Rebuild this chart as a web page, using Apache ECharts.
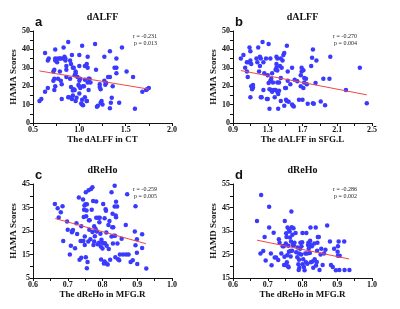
<!DOCTYPE html>
<html>
<head>
<meta charset="utf-8">
<script src="https://cdn.jsdelivr.net/npm/echarts@6/dist/echarts.min.js"></script>
<style>
  html, body { margin: 0; padding: 0; background: #fff; }
  #chart { width: 400px; height: 309px; }
</style>
</head>
<body>
<div id="chart"></div>
<script>
  // panel a: dALFF in CT vs HAMA
  var ptsA = [
    [0.57,12],[0.59,13],[0.63,38],[0.63,17],[0.66,19],[0.66,34],[0.67,35],[0.72,23],[0.72,28],[0.73,18],
    [0.73,29],[0.74,35],[0.74,34],[0.74,40],[0.73,24],[0.74,20],[0.76,33],[0.77,35],[0.77,24],[0.79,35],
    [0.79,28],[0.80,35],[0.80,23],[0.81,21],[0.81,13],[0.83,41],[0.83,35],[0.84,36],[0.85,35],[0.85,34],
    [0.86,25],[0.86,31],[0.86,29],[0.88,44],[0.88,14],[0.89,14],[0.90,24],[0.90,34],[0.91,32],[0.91,19.5],
    [0.92,37],[0.92,13],[0.93,17.7],[0.93,15],[0.93,30],[0.94,30],[0.94,18.4],[0.95,18],[0.95,26],[0.96,28],
    [0.96,27],[0.96,12],[0.97,13.7],[0.98,25],[0.99,20.6],[1.0,16],[1.0,23],[1.0,37],[1.0,31],[1.0,20],
    [1.01,24],[1.01,19],[1.02,10.6],[1.03,10],[1.03,42],[1.03,12.6],[1.04,20],[1.04,9.6],[1.05,20],[1.06,31],
    [1.06,23.5],[1.06,14],[1.08,12],[1.08,12],[1.08,32],[1.09,22],[1.09,30],[1.09,36],[1.10,24],[1.10,18],
    [1.11,24],[1.12,22],[1.17,43],[1.18,29],[1.19,8.8],[1.20,9.4],[1.22,21],[1.22,19.5],[1.23,11],[1.23,18.4],
    [1.24,12],[1.25,10],[1.27,23],[1.27,36],[1.29,21.7],[1.28,20.8],[1.31,25],[1.33,25],[1.33,39],[1.33,8],
    [1.34,11],[1.35,13.7],[1.36,20],[1.38,30],[1.40,35],[1.40,27],[1.40,30],[1.43,11],[1.46,41],[1.51,28],
    [1.58,25],[1.60,7.8],[1.68,17],[1.72,18],[1.73,18.4],[1.75,19]
  ];
  var fitA = [[0.57,28.3],[1.75,18.4]];

  // panel b: dALFF in SFG.L vs HAMA
  var ptsB = [
    [0.99,35],[1.02,37],[1.04,30],[1.06,28],[1.06,33],[1.07,25],[1.08,33],[1.09,41],[1.10,39],[1.10,34],
    [1.10,14],[1.11,32],[1.11,20],[1.12,19],[1.12,18.4],[1.13,20.6],[1.13,19.3],[1.17,35],[1.18,33],[1.19,41],
    [1.20,28],[1.21,36],[1.21,31],[1.22,35],[1.22,14],[1.23,14],[1.24,44],[1.25,33],[1.25,18],[1.26,27],
    [1.28,35],[1.29,13],[1.30,13],[1.30,26],[1.31,43],[1.31,21.7],[1.32,18.4],[1.32,7.8],[1.33,35],[1.33,23],
    [1.34,24],[1.34,18],[1.35,17],[1.35,27],[1.36,22],[1.37,18],[1.38,14],[1.39,18],[1.39,29],[1.40,36],
    [1.40,30],[1.40,32],[1.41,17],[1.41,22],[1.41,28.5],[1.41,35],[1.42,7.8],[1.42,15.7],[1.43,17.5],[1.43,22],
    [1.44,31],[1.45,35],[1.45,12],[1.45,24.5],[1.46,30],[1.47,34],[1.48,37],[1.49,38],[1.49,9.4],[1.50,19],
    [1.51,12.6],[1.51,19],[1.52,42],[1.52,12],[1.53,28],[1.53,23],[1.54,11.6],[1.56,21],[1.58,10],[1.58,30],
    [1.59,9.4],[1.60,9],[1.61,23.5],[1.64,22.7],[1.66,12.6],[1.68,20],[1.68,26],[1.69,28],[1.69,30],[1.70,12.6],
    [1.71,19],[1.71,28.7],[1.72,24.4],[1.72,22],[1.74,24],[1.75,21],[1.76,10.5],[1.80,31],[1.81,35.5],[1.82,40],
    [1.82,10.8],[1.83,10.5],[1.85,21.7],[1.86,34],[1.91,11.7],[1.94,24],[1.96,9.7],[2.01,24],[2.02,36],[2.20,18],
    [2.36,30],[2.44,10.8]
  ];
  var fitB = [[0.99,28.5],[2.44,15.3]];

  // panel c: dReHo in MFG.R vs HAMA
  var ptsC = [
    [0.663,36.5],[0.671,34.7],[0.674,30.7],[0.680,33],[0.685,35.5],[0.687,20.7],[0.698,29],[0.700,25.5],[0.706,15],[0.709,18.7],
    [0.712,24.5],[0.713,25],[0.715,25.4],[0.721,17.7],[0.725,28.3],[0.727,23.7],[0.732,39.3],[0.734,12.8],[0.737,20.7],[0.739,27],
    [0.739,13.6],[0.741,20.7],[0.744,38.4],[0.745,20.7],[0.746,31],[0.747,34],[0.748,35.8],[0.749,22.7],[0.749,19],[0.751,36.4],
    [0.752,41.5],[0.752,13.8],[0.753,31.3],[0.754,33.7],[0.755,36.4],[0.755,9.2],[0.757,11.8],[0.759,20.5],[0.760,42.3],[0.761,29.6],
    [0.762,25.5],[0.763,29.6],[0.765,21.5],[0.767,42.9],[0.769,34],[0.771,43.6],[0.771,24.6],[0.773,37.8],[0.774,19],[0.776,20.5],
    [0.776,27],[0.778,22.8],[0.780,25.8],[0.782,37.6],[0.782,30.6],[0.782,25],[0.784,24.8],[0.786,19.4],[0.788,30.6],[0.790,20],
    [0.791,28.7],[0.792,30.6],[0.794,23.8],[0.795,18.4],[0.796,12.9],[0.797,21.3],[0.800,17.6],[0.800,20],[0.802,36.5],[0.804,11.2],
    [0.804,19.8],[0.806,12],[0.806,30.4],[0.807,19.8],[0.809,34.3],[0.810,33.6],[0.811,24.4],[0.811,11.2],[0.812,18.7],[0.815,10.7],
    [0.817,27.6],[0.818,17.3],[0.820,29.3],[0.822,12.8],[0.826,41.5],[0.826,22.7],[0.828,26.6],[0.829,32.3],[0.830,19.7],[0.831,26.6],
    [0.832,23],[0.835,44.3],[0.835,35.4],[0.836,23],[0.837,13.8],[0.838,31.6],[0.839,30.9],[0.839,37.5],[0.842,35.4],[0.843,19.7],
    [0.845,13],[0.848,12.6],[0.850,15],[0.855,21.7],[0.859,15],[0.867,27.6],[0.868,15],[0.871,40.6],[0.875,15],[0.881,11.8],
    [0.887,12.6],[0.893,24.8],[0.895,35.5],[0.895,18.9],[0.899,21.5],[0.899,15.7],[0.900,11],[0.914,23.6],[0.914,17.8],[0.926,9]
  ];
  var fitC = [[0.664,30.3],[0.925,19.6]];

  // panel d: dReHo in MFG.R vs HAMD
  var ptsD = [
    [0.669,39.3],[0.681,50.3],[0.679,25.4],[0.687,26.5],[0.691,32.4],[0.694,22.4],[0.704,45.3],[0.704,36.5],[0.709,25.4],[0.711,20.4],
    [0.717,34.3],[0.720,23.7],[0.724,23.7],[0.730,22.7],[0.732,31.5],[0.734,30],[0.739,25.4],[0.743,28.5],[0.746,28.5],[0.747,20.5],
    [0.748,24],[0.749,39.3],[0.751,20.5],[0.752,29.7],[0.753,34],[0.754,32.4],[0.755,21.7],[0.756,24.7],[0.757,36.5],[0.758,20],
    [0.759,28.7],[0.760,19.6],[0.761,26.2],[0.761,35.6],[0.763,34.8],[0.764,32.2],[0.765,26.5],[0.766,24.2],[0.767,30.5],[0.768,43.3],
    [0.769,36.6],[0.770,26.6],[0.771,33.4],[0.772,29],[0.774,36.2],[0.775,28.8],[0.777,30],[0.780,34.2],[0.782,26],[0.785,23.8],
    [0.786,28],[0.788,20.8],[0.789,18.4],[0.790,25.4],[0.790,22.8],[0.791,19.4],[0.793,27.5],[0.794,30],[0.796,25],[0.797,28.5],
    [0.799,30.2],[0.800,20.8],[0.800,34.2],[0.802,23],[0.804,19.7],[0.806,18.3],[0.808,25.4],[0.810,21.7],[0.811,34.2],[0.813,25.4],
    [0.814,21.1],[0.816,29],[0.817,30],[0.818,27.4],[0.820,29.7],[0.821,25.6],[0.822,30.8],[0.823,36.5],[0.824,21.7],[0.825,28.8],
    [0.827,28.5],[0.829,22],[0.831,19.4],[0.834,29.7],[0.835,23],[0.838,36.5],[0.839,20.3],[0.841,21.8],[0.842,26.6],[0.843,30],
    [0.844,32.4],[0.847,32.4],[0.849,18.4],[0.852,25],[0.854,27.4],[0.858,20.5],[0.862,25.4],[0.866,27],[0.871,37.3],[0.879,30.5],
    [0.882,20.5],[0.887,19.7],[0.891,27.4],[0.896,18.3],[0.901,26.2],[0.902,24.5],[0.902,28.5],[0.904,30.5],[0.906,18.4],[0.907,24.5],
    [0.920,30.5],[0.921,18.4],[0.935,18.4]
  ];
  var fitD = [[0.669,31.1],[0.934,23.1]];

  // tick labels
  var xTicksA = [0.5, 1.0, 1.5, 2.0];
  var xTicksB = [0.9, 1.3, 1.7, 2.1, 2.5];
  var xTicksCD = [0.6, 0.7, 0.8, 0.9, 1.0];
  var yTicksAB = [0, 10, 20, 30, 40, 50];
  var yTicksC = [5, 15, 25, 35, 45];
  var yTicksD = [15, 25, 35, 45, 55];

  var titles = ['dALFF', 'dALFF', 'dReHo', 'dReHo'];
  var letters = ['a', 'b', 'c', 'd'];
  var xNames = ['The dALFF in CT', 'The dALFF in SFG.L', 'The dReHo in MFG.R', 'The dReHo in MFG.R'];
  var yNames = ['HAMA Scores', 'HAMA Scores', 'HAMA Scores', 'HAMD Scores'];
  var rText = ['r = -0.231', 'r = -0.270', 'r = -0.259', 'r = -0.286'];
  var pText = ['p = 0.013', 'p = 0.004', 'p = 0.005', 'p = 0.002'];

  var serif = '"Liberation Serif", "Times New Roman", serif';

  // midpoints between labelled ticks get a small tick too
  function withMinor(ticks) {
    var out = [];
    for (var i = 0; i < ticks.length; i++) {
      out.push(ticks[i]);
      if (i < ticks.length - 1) out.push(+((ticks[i] + ticks[i + 1]) / 2).toFixed(4));
    }
    return out;
  }

  function makeAxis(idx, ticks, name, isX, decimals) {
    return {
      type: 'value',
      gridIndex: idx,
      min: ticks[0],
      max: ticks[ticks.length - 1],
      name: name,
      nameLocation: 'middle',
      nameGap: isX ? 12 : 13,
      nameTextStyle: { fontFamily: serif, fontWeight: 'bold', fontSize: 9, color: '#111' },
      splitLine: { show: false },
      axisLine: { show: true, onZero: false, lineStyle: { color: '#111', width: 1 } },
      axisTick: {
        show: true, inside: false, length: 3,
        customValues: withMinor(ticks),
        lineStyle: { color: '#111', width: 1 }
      },
      axisLabel: {
        customValues: ticks,
        margin: isX ? 3 : 3,
        fontFamily: serif, fontWeight: 'bold', fontSize: 8, color: '#111',
        formatter: function (v) { return Number(v).toFixed(decimals); }
      }
    };
  }

  var grids = [
    { left: 33, top: 31, width: 139, height: 92 },
    { left: 233, top: 31, width: 139, height: 92 },
    { left: 33, top: 184, width: 139, height: 94 },
    { left: 233, top: 184, width: 139, height: 94 }
  ];

  var xAxes = [
    makeAxis(0, xTicksA, xNames[0], true, 1),
    makeAxis(1, xTicksB, xNames[1], true, 1),
    makeAxis(2, xTicksCD, xNames[2], true, 1),
    makeAxis(3, xTicksCD, xNames[3], true, 1)
  ];
  var yAxes = [
    makeAxis(0, yTicksAB, yNames[0], false, 0),
    makeAxis(1, yTicksAB, yNames[1], false, 0),
    makeAxis(2, yTicksC, yNames[2], false, 0),
    makeAxis(3, yTicksD, yNames[3], false, 0)
  ];

  var pts = [ptsA, ptsB, ptsC, ptsD];
  var fits = [fitA, fitB, fitC, fitD];
  var series = [];
  var graphics = [];

  for (var i = 0; i < 4; i++) {
    series.push({
      type: 'scatter', xAxisIndex: i, yAxisIndex: i,
      data: pts[i], symbolSize: 4.5,
      itemStyle: { color: '#3a3aff', opacity: 1 },
      silent: true
    });
    series.push({
      type: 'line', xAxisIndex: i, yAxisIndex: i,
      data: fits[i], symbol: 'none',
      lineStyle: { color: '#f04848', width: 1 },
      silent: true
    });

    var g = grids[i];
    var cx = g.left + g.width / 2;
    graphics.push({
      type: 'text', x: cx, y: g.top - 14,
      style: { text: titles[i], textAlign: 'center', textVerticalAlign: 'middle',
               font: 'bold 10px ' + serif, fill: '#111' }
    });
    graphics.push({
      type: 'text', x: g.left + 2, y: g.top - 9,
      style: { text: letters[i], textAlign: 'left', textVerticalAlign: 'middle',
               font: 'bold 13px "Liberation Sans", Arial, sans-serif', fill: '#111' }
    });
    graphics.push({
      type: 'text', x: g.left + 124, y: g.top + 5,
      style: { text: rText[i], textAlign: 'right', textVerticalAlign: 'middle',
               font: '6px ' + serif, fill: '#222' }
    });
    graphics.push({
      type: 'text', x: g.left + 124, y: g.top + 12,
      style: { text: pText[i], textAlign: 'right', textVerticalAlign: 'middle',
               font: '6px ' + serif, fill: '#222' }
    });
  }

  var chart = echarts.init(document.getElementById('chart'));
  chart.setOption({
    animation: false,
    backgroundColor: '#fff',
    grid: grids,
    xAxis: xAxes,
    yAxis: yAxes,
    series: series,
    graphic: graphics
  });
</script>
</body>
</html>
